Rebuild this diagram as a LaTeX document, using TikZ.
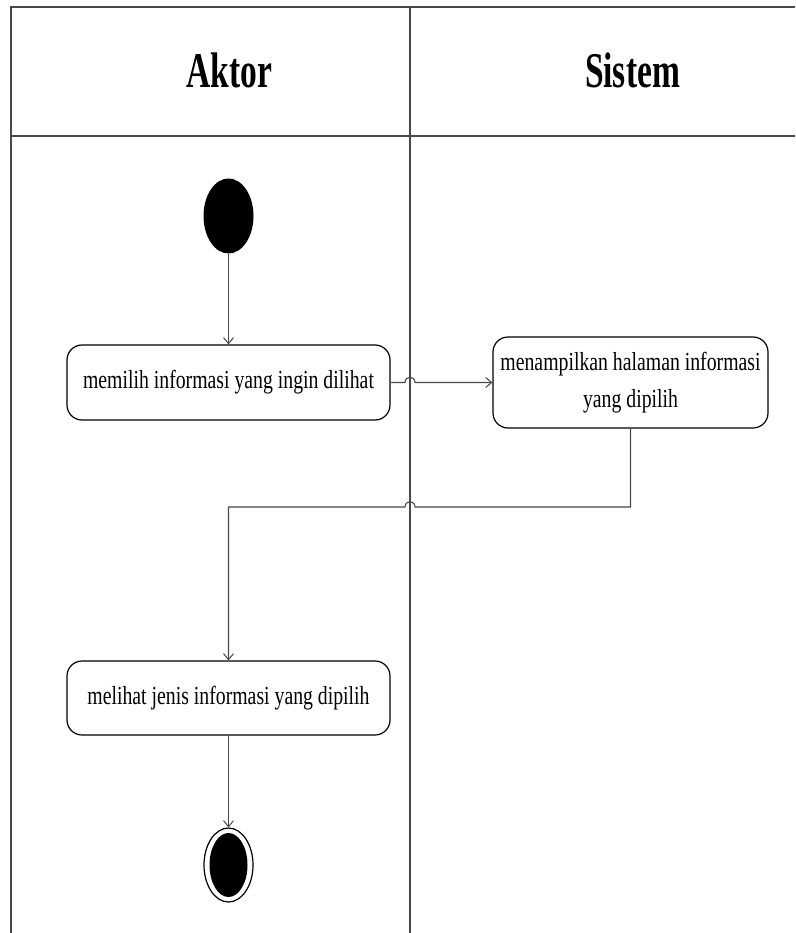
\documentclass[tikz,border=0pt]{standalone}
\usepackage{fontspec}
\setmainfont{Liberation Serif}
\usetikzlibrary{arrows.meta,shapes.geometric}
\definecolor{ln}{HTML}{484848}
\newcommand\lbl[1]{\scalebox{0.76}[1]{#1}}
\newcommand\hdr[1]{\scalebox{0.67}[1]{#1}}
\tikzset{
  border/.style={draw=ln,line width=1.8pt},
  flow/.style={draw=ln,line width=1.1pt,-{Straight Barb[length=6pt,width=10pt,line width=1pt]}},
  act/.style={draw=black,line width=1.2pt,rounded corners=15pt,inner sep=0pt,
    align=center,font=\fontsize{26}{37}\selectfont},
  hd/.style={font=\bfseries\fontsize{50}{60}\selectfont,anchor=base,inner sep=0pt}
}
\begin{document}
\begin{tikzpicture}[x=1pt,y=-1pt]
\useasboundingbox (0,0) rectangle (795,933);
% swimlane frame
\draw[border] (11,933) -- (11,7) -- (795,7);
\draw[border] (11,136) -- (795,136);
\draw[border] (410,7) -- (410,933);
\node[hd] (hA) at (229.5,88) {\hdr{Aktor}};
\node[hd] (hS) at (632.5,88) {\hdr{Sistem}};
% nodes
\node[ellipse,fill=black,minimum width=50pt,minimum height=75pt,inner sep=0pt] (start) at (228.5,216) {};
\node[act,minimum width=323pt,minimum height=75pt] (b1) at (228.5,382.5) {\lbl{memilih informasi yang ingin dilihat}};
\node[act,minimum width=275pt,minimum height=91pt] (b2) at (630.5,382.5) {\lbl{menampilkan halaman informasi}\\\lbl{yang dipilih}};
\node[act,minimum width=323pt,minimum height=74pt] (b3) at (228.5,698) {\lbl{melihat jenis informasi yang dipilih}};
\node[ellipse,draw=black,line width=1.2pt,minimum width=49pt,minimum height=74pt,inner sep=0pt] (end) at (228.5,865) {};
\node[ellipse,fill=black,minimum width=38pt,minimum height=64pt,inner sep=0pt] (endin) at (228.5,865) {};
% connectors
\draw[flow] (start) -- (b1);
\draw[flow] (b1.east) -- (405,382.5) .. controls (405,375.5) and (415,375.5) .. (415,382.5) -- (b2.west);
\draw[flow] (b2.south) -- (630.5,507) -- (415,507) .. controls (415,500) and (405,500) .. (405,507) -- (228.5,507) -- (b3.north);
\draw[flow] (b3) -- (end);
\end{tikzpicture}
\end{document}
